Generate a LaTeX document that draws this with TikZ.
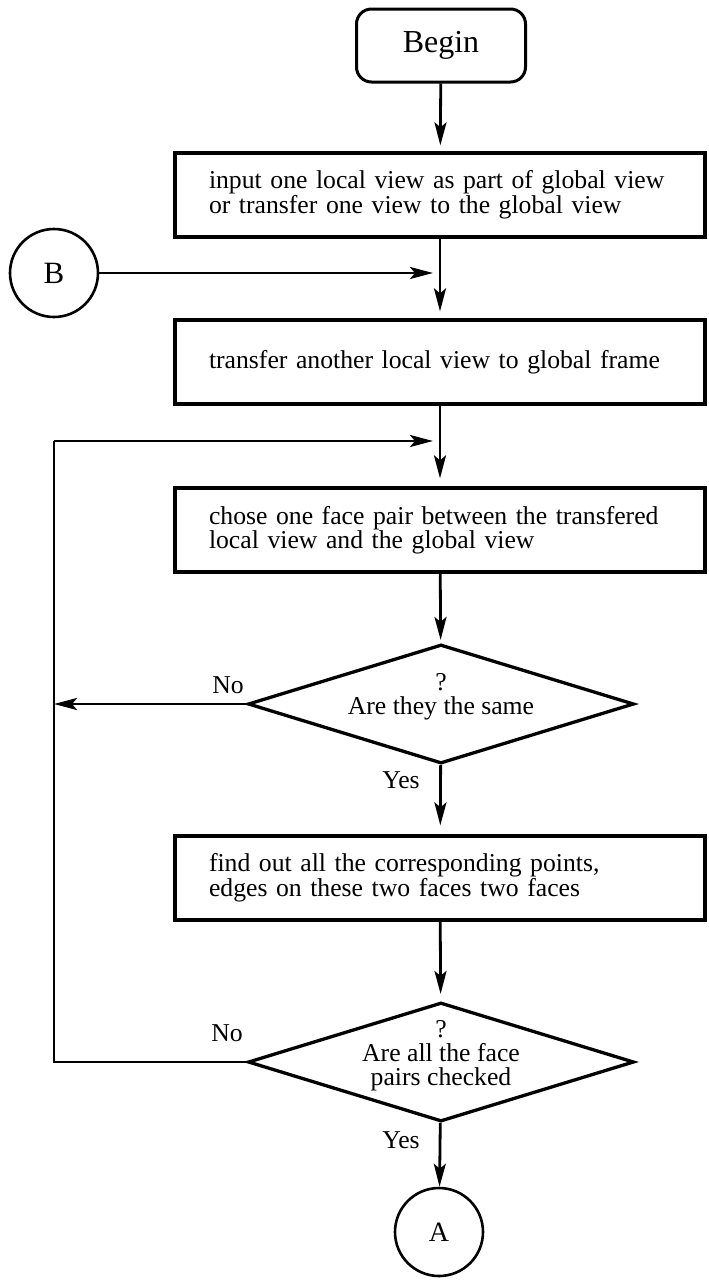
\documentclass[tikz,border=0pt]{standalone}
\usepackage{fontspec}
\setmainfont{Liberation Serif}
\usetikzlibrary{arrows.meta,shapes.geometric}
\newcommand\flowfont{\fontsize{25.7}{23}\selectfont}
\newcommand\askfont{\fontsize{25.7}{24}\selectfont}
\begin{document}
\begin{tikzpicture}[x=1pt,y=-1pt,
  every node/.style={font=\flowfont},
  startbox/.style={draw, line width=3pt, rounded corners=15pt,
    minimum width=169pt, minimum height=73pt, inner sep=0pt, font=\fontsize{32}{32}\selectfont},
  procbox/.style={draw, line width=3.3pt, minimum width=530pt, minimum height=84pt,
    inner sep=0pt, text width=462pt, align=left},
  askbox/.style={draw, shape=diamond, line width=3.3pt, minimum width=386pt,
    minimum height=119pt, inner sep=0pt},
  asktext/.style={align=center, font=\askfont, inner sep=0pt},
  connector/.style={draw, line width=2.6pt, minimum size=88pt, inner sep=0pt, shape=circle},
  link/.style={line width=2.8pt},
  flow/.style={link, -{Stealth[length=23pt, width=12pt, inset=5pt]}},
  tag/.style={inner sep=0pt}
]
\useasboundingbox (0,0) rectangle (709,1282);

% boxes of the main column
\node[startbox] (begin) at (441,45.5) {Begin};
\node[procbox] (input) at (440,195) {input one local view as part of global view\\or transfer one view to the global view};
\node[procbox] (transfer) at (440,362) {transfer another local view to global frame};
\node[procbox] (chose) at (440,530) {chose one face pair between the transfered\\local view and the global view};
\node[askbox, label={[asktext, yshift=7pt]center:{?\\Are they the same}}] (same) at (441,704) {};
\node[procbox] (find) at (440,878) {find out all the corresponding points,\\edges on these two faces two faces};
\node[askbox, label={[asktext, yshift=6pt]center:{?\\Are all the face\\pairs checked}}] (checked) at (441,1062) {};

% off-page connectors
\node[connector, font=\fontsize{31}{31}\selectfont] (B) at (54,273) {B};
\node[connector, font=\fontsize{28}{28}\selectfont] (A) at (439,1232) {A};

% junction points on the main column and the return loop
\coordinate (joinB) at (441,273);
\coordinate (joinloop) at (441,441);
\coordinate (loopbottom) at (54,1062);
\coordinate (looptop) at (54,441);
\coordinate (loopmid) at (54,704);

% main flow
\draw[flow, shorten >=6pt] (begin) -- (input);
\draw[flow, shorten >=7pt] (input) -- (transfer);
\draw[flow, shorten >=8pt] (B) -- (joinB);
\draw[flow, shorten >=8pt] (transfer) -- (chose);
\draw[flow, shorten >=3pt] (chose) -- (same);
\draw[flow, shorten >=9pt] (same) -- (find);
\draw[flow, shorten >=7pt] (find) -- (checked);
\draw[flow] (checked) -- (A);

% "No" branches back to the face pair choice
\draw[flow] (same.west) -- (loopmid);
\draw[link] (checked.west) -- (loopbottom) -- (looptop);
\draw[flow, shorten >=8pt] (looptop) -- (joinloop);

% branch labels
\node[tag] (no1) at (228,685) {No};
\node[tag] (yes1) at (401,780) {Yes};
\node[tag] (no2) at (227,1033) {No};
\node[tag] (yes2) at (401,1140) {Yes};
\end{tikzpicture}
\end{document}
